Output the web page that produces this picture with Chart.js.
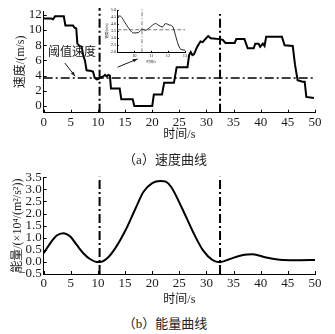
<!DOCTYPE html>
<html><head><meta charset="utf-8">
<script src="https://cdn.jsdelivr.net/npm/chart.js@4.4.1/dist/chart.umd.min.js"></script>
<style>
html,body{margin:0;padding:0;background:#fff;width:335px;height:334px;overflow:hidden;}
.box{position:absolute;left:0;width:335px;}
#c1wrap{top:0;height:145px;}
#c2wrap{top:165px;height:145px;}
#insetwrap{left:100px;top:3px;width:92px;height:64px;}
.cap{position:absolute;left:0;width:330px;text-align:center;font:13px "Liberation Serif","Noto Sans CJK SC",serif;color:#222;}
</style></head>
<body>
<div class="box" id="c1wrap"><canvas id="c1"></canvas></div>
<div class="box" id="insetwrap"><canvas id="c3"></canvas></div>
<div class="box" id="c2wrap"><canvas id="c2"></canvas></div>
<div class="cap" style="top:149px">（a）速度曲线</div>
<div class="cap" style="top:313px">（b）能量曲线</div>
<script>
// ---------- data ----------
const speedT = [0,1.4,1.7,2.1,3.7, 4.0,5.4,5.7,6.0,6.2, 6.6,7.0,7.3,7.6,7.9, 8.8,9.1,9.4,9.8,10.2, 10.6,11.0,11.3,11.6,11.9, 12.2,12.4,14.0,14.3,16.4, 16.7,20.0,20.3,21.8,22.2, 24.0,24.5,26.5,26.8,27.1, 27.4,27.7,28.3,28.9,29.3, 29.9,30.3,30.8,32.4,33.0, 33.5,35.2,35.5,37.0,37.6, 38.7,39.0,39.6,39.9,40.4, 40.7,41.0,43.9,44.4,45.9, 46.3,46.8,47.7,48.1,48.4, 49.8];
const speedV = [11.5,11.5,11.4,11.8,11.8, 10.6,10.6,10.3,10.2,8.2, 7.9,7.8,6.6,6.0,4.7, 4.6,4.5,3.7,3.5,3.6, 3.8,3.9,4.1,3.9,4.1, 4.0,2.3,2.3,0.9,0.9, 0.0,0.0,1.5,1.5,3.05, 3.05,5.1,5.1,6.7,7.1, 6.7,6.8,7.8,8.5,8.4, 8.9,9.2,8.9,8.8,8.7, 8.3,8.3,8.8,8.8,7.6, 7.6,8.2,8.2,7.8,8.2, 7.9,9.1,9.1,8.0,7.9, 5.5,3.4,3.2,3.2,1.2, 1.05];
const thresholdSpeed = 3.7;
const cutTimes = [10.3, 32.5];
const xTicks = [0,5,10,15,20,25,30,35,40,45,50];
const speedTicks = [0,2,4,6,8,10,12];

const energyT = [0,1.2,2.4,3.6,4.9,6.1,7.3,8.6,9.8,10.4,11.7,13.2,15.1,16.9,18.4,20.0,21.5,22.5,23.5,25.5,27.5,29.3,31.1,32.5,34.2,36.7,38.5,41.0,44.1,47.2,50];
const energyV = [0.36,0.77,1.09,1.19,1.05,0.70,0.36,0.11,0.0,0.0,0.15,0.57,1.32,2.2,2.9,3.26,3.35,3.32,3.1,2.22,1.25,0.5,0.08,-0.01,0.11,0.29,0.32,0.18,0.08,0.07,0.08];
const energyTicks = [-0.5,0,0.5,1,1.5,2,2.5,3,3.5];

const insetT = [9,9.16,9.46,9.76,9.96,10.26,10.46,10.66,10.86,11.06,11.26,11.46,11.66,11.86,12.06,12.26,12.4,12.56,12.76,13.0];
const insetV = [4.57,4.57,4.09,3.56,3.37,3.41,3.65,3.56,3.7,3.9,4.04,3.9,3.8,4.04,3.94,3.85,3.37,2.69,2.2,2.16];
const insetXTicks = [10,11,12,13];
const insetYTicks = [2,2.5,3,3.5,4,4.5,5];
const insetThreshold = 3.6;
const insetCut = 10.46;

// ---------- helpers ----------
const FONT = '"Liberation Serif","Noto Sans CJK SC",serif';
const INK = '#1a1a1a';
const DASHDOT = [9,3,2,3];
const pts = (xs, ys) => xs.map((x,i)=>({x, y: ys[i]}));

function inward(len){
  return {id:'inward', afterDatasetsDraw(chart){
    const {ctx, chartArea:a, scales:{x,y}} = chart;
    ctx.save(); ctx.strokeStyle='#000'; ctx.lineWidth=1; ctx.beginPath();
    x.ticks.forEach(t=>{const p=Math.round(x.getPixelForValue(t.value))+0.5; ctx.moveTo(p,a.bottom); ctx.lineTo(p,a.bottom-len);});
    y.ticks.forEach(t=>{const p=Math.round(y.getPixelForValue(t.value))+0.5; ctx.moveTo(a.left,p); ctx.lineTo(a.left+len,p);});
    ctx.stroke(); ctx.restore();
  }};
}
function arrow(ctx,x0,y0,x1,y1,head){
  ctx.beginPath(); ctx.moveTo(x0,y0); ctx.lineTo(x1,y1); ctx.stroke();
  const an=Math.atan2(y1-y0,x1-x0);
  ctx.beginPath(); ctx.moveTo(x1,y1);
  ctx.lineTo(x1-head*Math.cos(an-0.35), y1-head*Math.sin(an-0.35));
  ctx.lineTo(x1-head*Math.cos(an+0.35), y1-head*Math.sin(an+0.35));
  ctx.closePath(); ctx.fill();
}
// annotation anchors in data units
const annotLabel = {text:'阈值速度', x:5.2, y:7.0};
const annotArrows = [[3.9,5.65,5.8,3.9],[13.6,5.1,17.3,6.2]];
const annot = {id:'annot', afterDatasetsDraw(chart){
  const {ctx, scales:{x,y}} = chart;
  ctx.save(); ctx.fillStyle=INK; ctx.strokeStyle=INK; ctx.lineWidth=1;
  ctx.font='12px '+FONT; ctx.textAlign='center'; ctx.textBaseline='middle';
  ctx.fillText(annotLabel.text, x.getPixelForValue(annotLabel.x), y.getPixelForValue(annotLabel.y));
  annotArrows.forEach(a=>arrow(ctx, x.getPixelForValue(a[0]), y.getPixelForValue(a[1]), x.getPixelForValue(a[2]), y.getPixelForValue(a[3]), 5));
  ctx.restore();
}};

function axisX(ticksArr, min, max, h, size, tpad, titlePad, title){
  return {type:'linear', min, max,
    afterBuildTicks: s=>{s.ticks = ticksArr.map(v=>({value:v}));},
    afterFit: s=>{s.height = h;},
    grid:{display:false, drawTicks:false},
    border:{display:true, color:'#000', width:1},
    ticks:{font:{family:FONT,size}, color:INK, padding:tpad, maxRotation:0, autoSkip:false},
    title:{display:true, text:title, font:{family:FONT,size:size-1}, color:INK, padding:{top:titlePad,bottom:titlePad}}};
}
function axisY(ticksArr, min, max, w, size, tpad, titlePad, title, fmt){
  return {type:'linear', min, max,
    afterBuildTicks: s=>{s.ticks = ticksArr.map(v=>({value:v}));},
    afterFit: s=>{s.width = w;},
    grid:{display:false, drawTicks:false},
    border:{display:true, color:'#000', width:1},
    ticks:{font:{family:FONT,size}, color:INK, padding:tpad, autoSkip:false, callback: fmt},
    title:{display:true, text:title, font:{family:FONT,size:size-1}, color:INK, padding:{top:titlePad,bottom:titlePad}}};
}
const baseOpts = {responsive:true, maintainAspectRatio:false, animation:false,
  plugins:{legend:{display:false}, tooltip:{enabled:false}}};

// ---------- top chart ----------
new Chart(document.getElementById('c1'), {
  type:'line',
  data:{datasets:[
    {data:pts(speedT,speedV), borderColor:'#000', borderWidth:2, pointRadius:0, tension:0},
    {data:[{x:0,y:thresholdSpeed},{x:49.8,y:thresholdSpeed}], borderColor:'#000', borderWidth:1.5, borderDash:DASHDOT, pointRadius:0},
    {data:[{x:cutTimes[0],y:-0.88},{x:cutTimes[0],y:12.9}], borderColor:'#000', borderWidth:2, borderDash:DASHDOT, pointRadius:0, clip:false},
    {data:[{x:cutTimes[1],y:-0.88},{x:cutTimes[1],y:12.1}], borderColor:'#000', borderWidth:2, borderDash:DASHDOT, pointRadius:0, clip:false}
  ]},
  options:{...baseOpts, layout:{padding:{top:11,right:20,left:0,bottom:0}},
    scales:{
      x: axisX(xTicks,0,50,32.3,13,2,3,'时间/s'),
      y: axisY(speedTicks,-0.88,12.5,43.7,13,2,14,'速度/(m/s)', v=>String(v))
    }},
  plugins:[inward(3), annot]
});

// ---------- inset ----------
new Chart(document.getElementById('c3'), {
  type:'line',
  data:{datasets:[
    {data:pts(insetT,insetV), borderColor:'#222', borderWidth:1, pointRadius:0, tension:0.4, cubicInterpolationMode:'monotone'},
    {data:[{x:9,y:insetThreshold},{x:13,y:insetThreshold}], borderColor:'#777', borderWidth:1, borderDash:[4,2], pointRadius:0},
    {data:[{x:insetCut,y:2},{x:insetCut,y:5.1}], borderColor:'#777', borderWidth:1, borderDash:[4,2,1,2], pointRadius:0, clip:false}
  ]},
  options:{...baseOpts, layout:{padding:{top:7,right:7,left:0,bottom:0}},
    scales:{
      x: axisX(insetXTicks,9,13,14.7,4.5,0.5,2.5,'时间/s'),
      y: axisY(insetYTicks,2,5,17.3,4.5,1,5,'速度/(m/s)', v=>v.toFixed(1))
    }},
  plugins:[inward(1.5)]
});

// ---------- bottom chart ----------
new Chart(document.getElementById('c2'), {
  type:'line',
  data:{datasets:[
    {data:pts(energyT,energyV), borderColor:'#000', borderWidth:2, pointRadius:0, tension:0.4, cubicInterpolationMode:'monotone'},
    {data:[{x:cutTimes[0],y:-0.5},{x:cutTimes[0],y:3.52}], borderColor:'#000', borderWidth:2, borderDash:DASHDOT, pointRadius:0, clip:false},
    {data:[{x:cutTimes[1],y:-0.5},{x:cutTimes[1],y:3.52}], borderColor:'#000', borderWidth:2, borderDash:DASHDOT, pointRadius:0, clip:false}
  ]},
  options:{...baseOpts, layout:{padding:{top:12.3,right:20,left:0,bottom:0}},
    scales:{
      x: axisX(xTicks,0,50,36,13,2,3,'时间/s'),
      y: axisY(energyTicks,-0.5,3.5,43.7,13,2,11,'能量/(×10⁴/(m²/s²))', v=>(v<0?'−':'')+Math.abs(v).toFixed(1))
    }},
  plugins:[inward(3)]
});
</script>
</body></html>
